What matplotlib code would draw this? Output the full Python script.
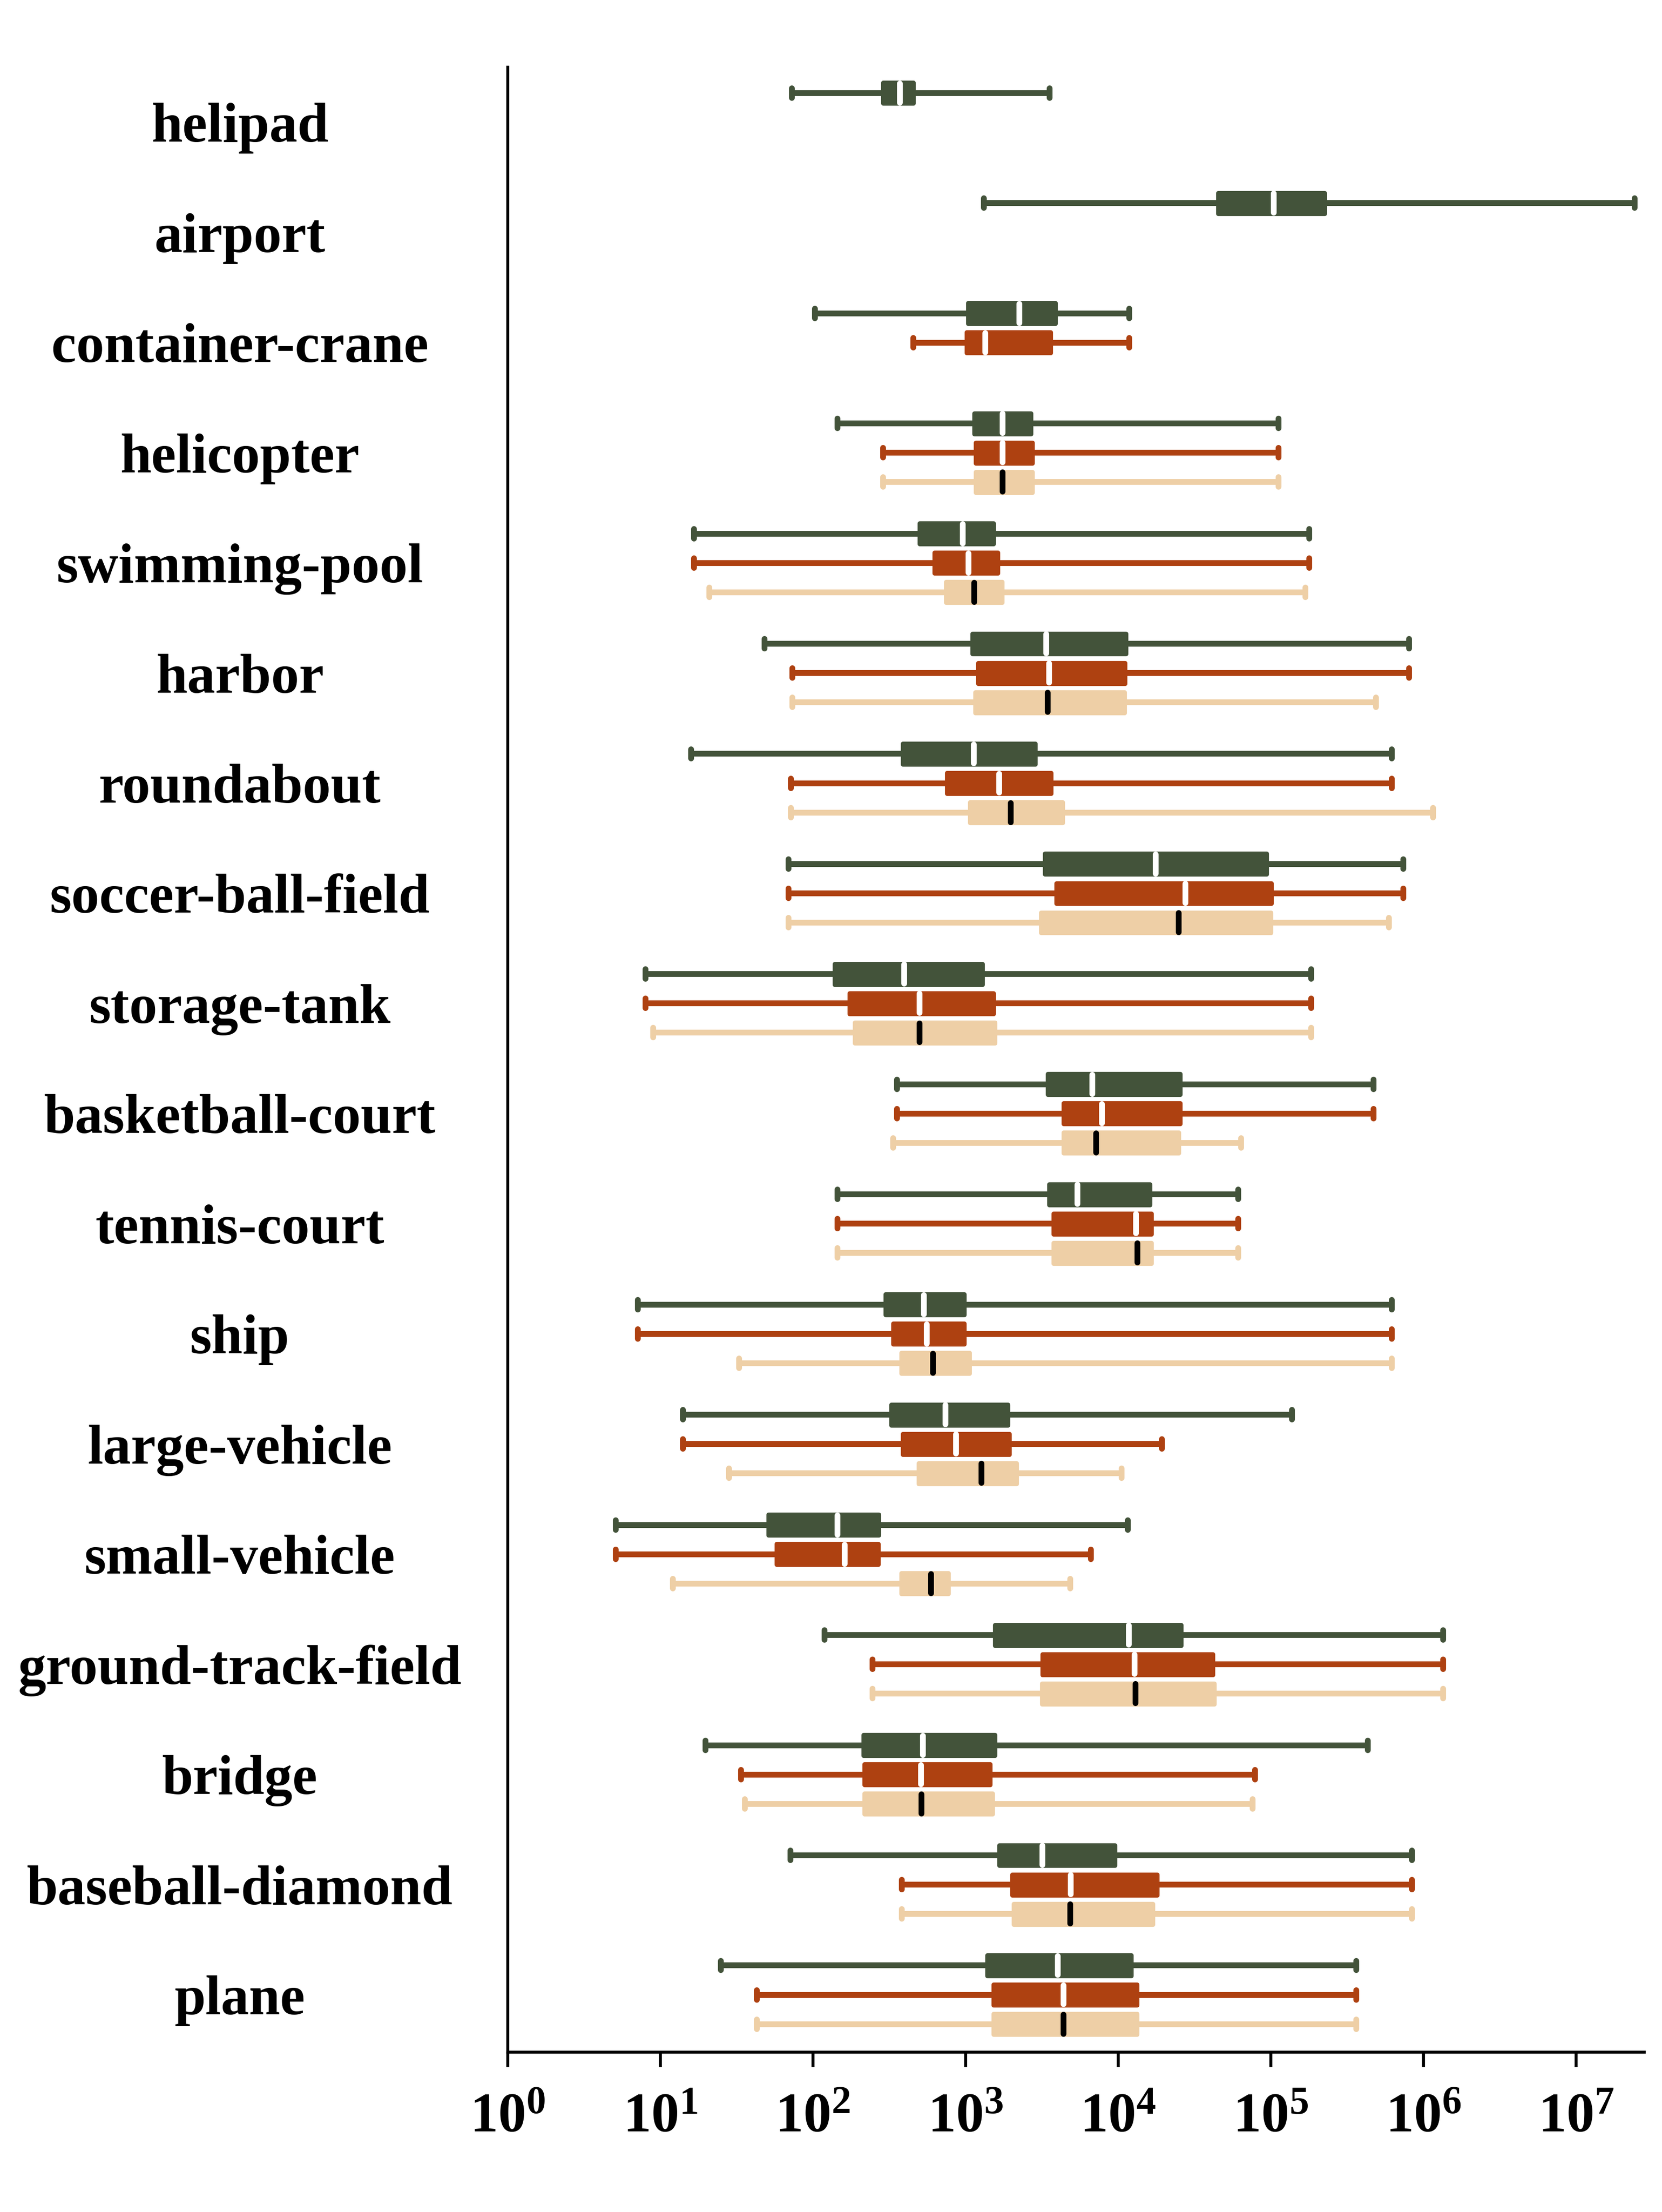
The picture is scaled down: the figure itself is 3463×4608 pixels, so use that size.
import matplotlib
matplotlib.use('Agg')
import matplotlib.pyplot as plt

plt.rcParams['font.family'] = ['Liberation Serif', 'DejaVu Serif']
plt.rcParams['font.weight'] = 'bold'
plt.rcParams['mathtext.fontset'] = 'custom'
plt.rcParams['mathtext.rm'] = 'Liberation Serif:bold'
plt.rcParams['mathtext.bf'] = 'Liberation Serif:bold'
plt.rcParams['mathtext.it'] = 'Liberation Serif:bold:italic'
plt.rcParams['mathtext.default'] = 'regular'

categories = ['helipad', 'airport', 'container-crane', 'helicopter', 'swimming-pool',
              'harbor', 'roundabout', 'soccer-ball-field', 'storage-tank',
              'basketball-court', 'tennis-court', 'ship', 'large-vehicle',
              'small-vehicle', 'ground-track-field', 'bridge', 'baseball-diamond', 'plane']

N = None
# series A (dark green)
a_lo = [73, 1320, 103, 145, 16.6, 48, 15.9, 69, 8.0, 355, 145, 7.1, 14.1, 5.1, 119, 19.8, 71, 24.9]
a_q1 = [288, 45000, 1035, 1143, 498, 1106, 387, 3300, 139, 3446, 3524, 298, 325, 51.2, 1552, 214, 1657, 1391]
a_med = [371, 104500, 2250, 1750, 959, 3374, 1130, 17580, 395, 6790, 5400, 532, 738, 145, 11730, 526, 3194, 4018]
a_q3 = [456, 225000, 3890, 2680, 1518, 11230, 2864, 93600, 1289, 25500, 16100, 980, 1890, 270, 25770, 1552, 9530, 12130]
a_hi = [3560, 2.42e7, 11860, 1.128e5, 1.786e5, 8.07e5, 6.21e5, 7.4e5, 1.845e5, 4.72e5, 61100, 6.21e5, 1.374e5, 11600, 1.35e6, 4.33e5, 8.43e5, 3.63e5]

# series B (rust)
b_lo = [N, N, 456, 288, 16.6, 73.5, 71.9, 69, 8.0, 355, 145, 7.1, 14.1, 5.1, 245, 33.8, 383, 43]
b_q1 = [N, N, 1013, 1167, 626, 1207, 754, 3930, 174, 4385, 3760, 336, 387, 57.8, 3194, 217, 2018, 1518]
b_med = [N, N, 1346, 1750, 1047, 3524, 1657, 27530, 498, 7830, 13090, 555, 869, 161, 12800, 509, 4890, 4385]
b_q3 = [N, N, 3600, 2740, 1622, 11110, 3640, 101000, 1518, 25500, 16470, 980, 1932, 267, 41700, 1453, 17960, 13240]
b_hi = [N, N, 11860, 1.128e5, 1.786e5, 8.07e5, 6.21e5, 7.4e5, 1.845e5, 4.72e5, 61100, 6.21e5, 19400, 6640, 1.35e6, 78600, 8.43e5, 3.63e5]

# series C (tan)
c_lo = [N, N, N, 288, 20.9, 73.5, 71.9, 69, 9.0, 336, 145, 32.7, 28.1, 12.1, 245, 35.7, 383, 43]
c_q1 = [N, N, N, 1167, 746, 1155, 1070, 3125, 188, 4385, 3760, 379, 492, 379, 3160, 217, 2062, 1518]
c_med = [N, N, N, 1750, 1143, 3447, 1974, 24950, 498, 7175, 13370, 613, 1274, 593, 12950, 514, 4840, 4385]
c_q3 = [N, N, N, 2740, 1731, 10980, 4337, 100000, 1552, 24950, 16470, 1059, 2155, 771, 42650, 1502, 16830, 13240]
c_hi = [N, N, N, 1.128e5, 1.69e5, 4.88e5, 1.158e6, 5.94e5, 1.845e5, 63900, 61100, 6.21e5, 10520, 4840, 1.35e6, 76100, 8.43e5, 3.63e5]

GREEN = '#43533A'
RUST = '#AE4111'
TAN = '#EECFA6'

fig = plt.figure(figsize=(3463 / 300, 4608 / 300), dpi=300)
ax = fig.add_axes([0.3055, 0.0723, 0.6838, 0.8973])
ax.set_xscale('log')

BOX_H = 0.187
CAP_W = 0.087
MED_HALF = 0.087

series = [
    (a_lo, a_q1, a_med, a_q3, a_hi, GREEN, -0.266, 'white'),
    (b_lo, b_q1, b_med, b_q3, b_hi, RUST, 0.0, 'white'),
    (c_lo, c_q1, c_med, c_q3, c_hi, TAN, 0.266, 'black'),
]

for lo, q1, med, q3, hi, color, off, mcol in series:
    stats, pos = [], []
    for i in range(len(categories)):
        if med[i] is None:
            continue
        stats.append(dict(whislo=lo[i], q1=q1[i], med=med[i], q3=q3[i], whishi=hi[i]))
        pos.append(i + off)
    art = ax.bxp(stats, positions=pos, widths=BOX_H, capwidths=CAP_W,
                 orientation='horizontal', patch_artist=True, showfliers=False,
                 manage_ticks=False,
                 boxprops=dict(facecolor=color, edgecolor=color, linewidth=2.2,
                               joinstyle='round'),
                 whiskerprops=dict(color=color, linewidth=2.9, solid_capstyle='butt'),
                 capprops=dict(color=color, linewidth=2.9, solid_capstyle='round'),
                 medianprops=dict(color=mcol, linewidth=2.9, solid_capstyle='round'))
    for ln, p in zip(art['medians'], pos):
        ln.set_ydata([p - MED_HALF, p + MED_HALF])

ax.set_xlim(1, 2.8e7)
ax.set_ylim(17.52, -0.5)
ax.set_xticks([10.0 ** k for k in range(8)])
ax.set_yticks(range(len(categories)))
ax.set_yticklabels(categories, ha='center', fontsize=28, fontweight='bold')
ax.tick_params(axis='y', length=0, pad=134)
ax.tick_params(axis='x', which='major', length=7.4, width=1.5, labelsize=28, pad=13)
ax.tick_params(axis='x', which='minor', length=3.1, width=1.5)

for s in ['top', 'right']:
    ax.spines[s].set_visible(False)
for s in ['left', 'bottom']:
    ax.spines[s].set_linewidth(1.5)

fig.savefig('out.png', dpi=300)
